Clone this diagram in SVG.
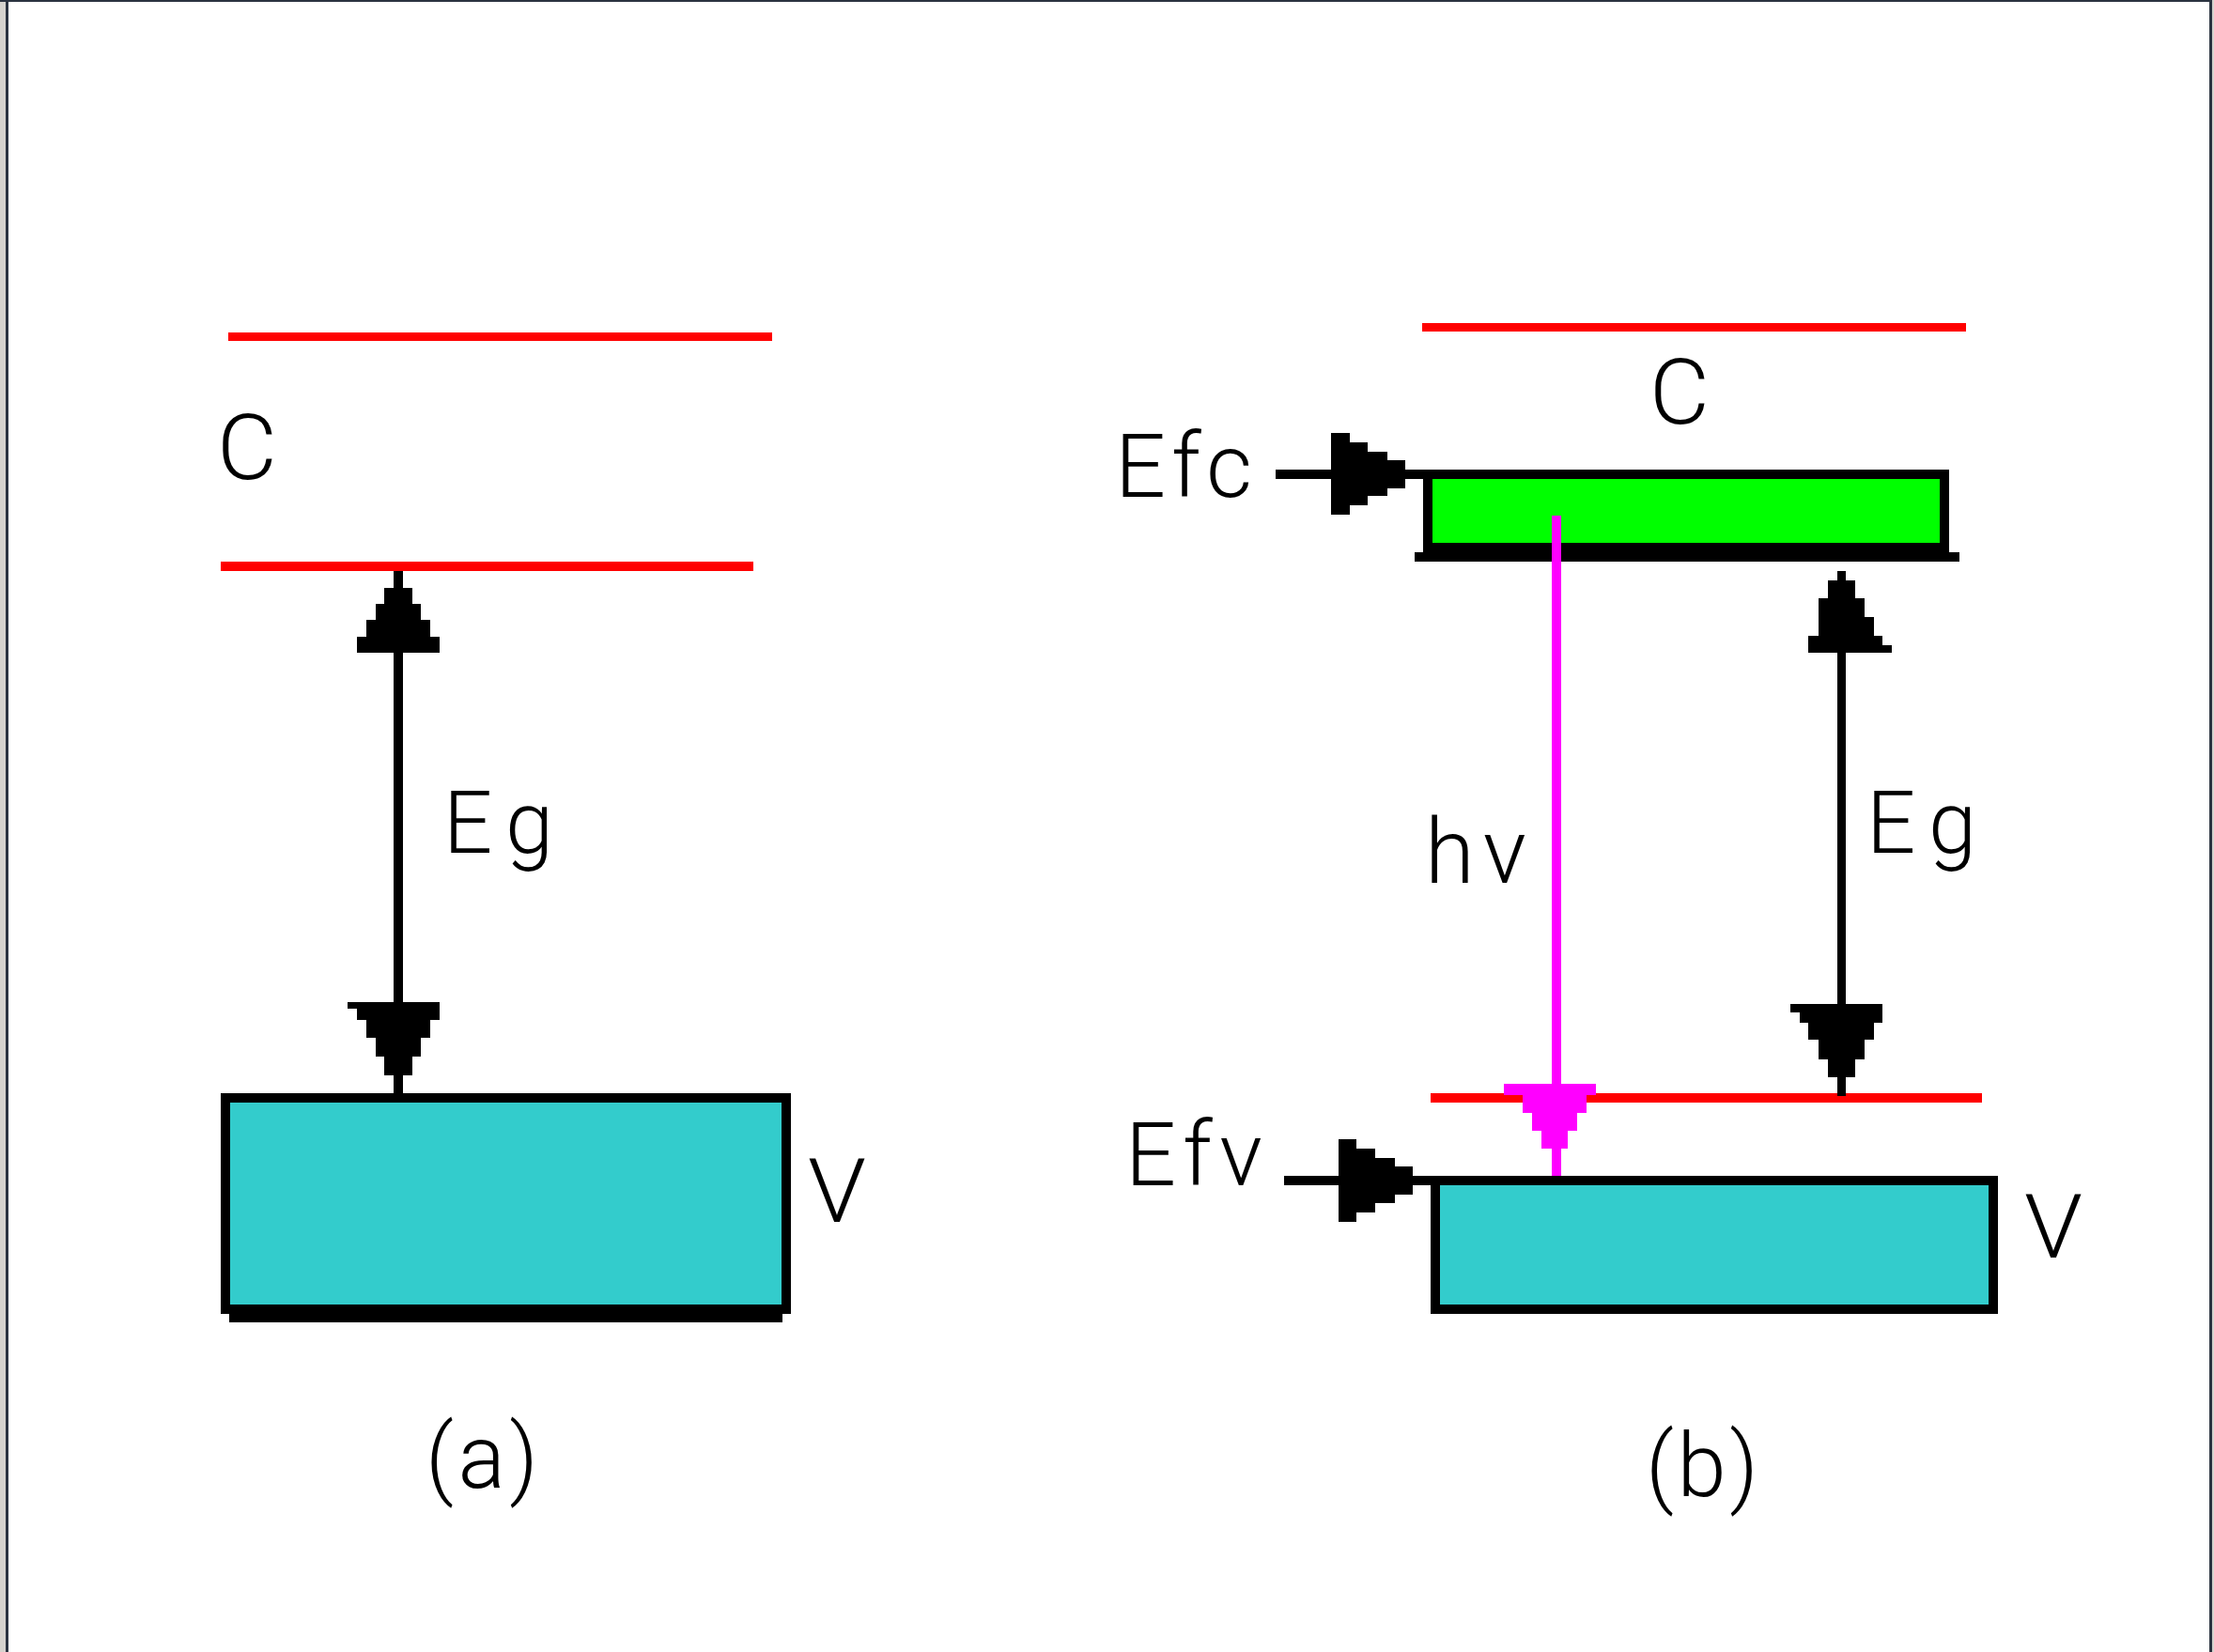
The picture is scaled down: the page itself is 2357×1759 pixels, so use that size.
<svg xmlns="http://www.w3.org/2000/svg" width="2357" height="1759" viewBox="0 0 2357 1759">
<style>
.lbl{font-family:Roboto,"Liberation Sans",Arial,sans-serif;font-weight:300;fill:#000}
.red{fill:#ff0000}
.blk{fill:#000}
.box{stroke:#000;stroke-width:10}
</style>
<rect x="0" y="0" width="2357" height="1759" fill="#ffffff"/>
<g id="frame">
<rect x="0" y="0" width="6" height="1759" fill="#d6d3ce"/>
<rect x="6" y="0" width="3" height="1759" fill="#2b3340"/>
<rect x="0" y="0" width="2357" height="2" fill="#2b3340"/>
<rect x="2352" y="0" width="3" height="1759" fill="#2b3340"/>
<rect x="2355" y="0" width="2" height="1759" fill="#d6d3ce"/>
</g>
<g id="panel-a">
<g id="a-conduction-top"><rect class="red" x="243" y="354" width="579" height="9"/></g>
<g id="a-conduction-edge"><rect class="red" x="235" y="598" width="567" height="10"/></g>
<g id="a-label-C"><text class="lbl" x="231" y="510" font-size="96" textLength="64" lengthAdjust="spacingAndGlyphs">C</text></g>
<g id="a-valence-band">
<rect class="box" x="240" y="1169" width="597" height="225" fill="#33cccc"/>
<rect class="blk" x="244" y="1399" width="589" height="9"/>
</g>
<g id="a-label-V"><text class="lbl" x="860" y="1301" font-size="95" textLength="62" lengthAdjust="spacingAndGlyphs">V</text></g>
<g id="a-label-Eg"><text class="lbl" x="472" y="908" font-size="92" textLength="117" lengthAdjust="spacing">Eg</text></g>
<g id="a-caption"><text class="lbl" x="453" y="1584" font-size="94" textLength="120" lengthAdjust="spacing">(a)</text></g>
</g>
<g id="panel-b">
<g id="b-conduction-top"><rect class="red" x="1514" y="344" width="579" height="9"/></g>
<g id="b-label-C"><text class="lbl" x="1756" y="451" font-size="96" textLength="64" lengthAdjust="spacingAndGlyphs">C</text></g>
<g id="b-conduction-band">
<rect class="box" x="1520" y="505" width="550" height="78" fill="#00ff00"/>
<rect class="blk" x="1506" y="588" width="580" height="10"/>
</g>
<g id="b-valence-edge"><rect class="red" x="1523" y="1164" width="587" height="10"/></g>
<g id="b-valence-band"><rect class="box" x="1528" y="1257" width="594" height="137" fill="#33cccc"/></g>
<g id="b-label-V"><text class="lbl" x="2155" y="1339" font-size="95" textLength="62" lengthAdjust="spacingAndGlyphs">V</text></g>
<g id="b-label-Efc"><text class="lbl" x="1187" y="529" font-size="95" textLength="146" lengthAdjust="spacing">Efc</text></g>
<g id="b-label-Efv"><text class="lbl" x="1198" y="1262" font-size="95" textLength="146" lengthAdjust="spacing">Efv</text></g>
<g id="b-label-hv"><text class="lbl" x="1517" y="940" font-size="96" textLength="108" lengthAdjust="spacing">hv</text></g>
<g id="b-label-Eg"><text class="lbl" x="1987" y="908" font-size="92" textLength="117" lengthAdjust="spacing">Eg</text></g>
<g id="b-caption"><text class="lbl" x="1752" y="1593" font-size="94" textLength="120" lengthAdjust="spacing">(b)</text></g>
</g>
<g id="connectors">
<rect class="blk" x="419" y="695" width="10" height="372"/>
<path class="blk" d="M419,608 H429 V626 H439 V643 H448 V660 H458 V678 H468 V695 H380 V678 H390 V660 H400 V643 H409 V626 H419 Z"/>
<path class="blk" d="M370,1067 H468 V1086 H458 V1105 H448 V1125 H439 V1145 H429 V1164 H419 V1145 H409 V1125 H400 V1105 H390 V1086 H380 V1074 H370 Z"/>
<rect class="blk" x="1956" y="695" width="9" height="374"/>
<path class="blk" d="M1956,608 H1965 V618 H1975 V637 H1985 V657 H1995 V677 H2004 V687 H2014 V695 H1925 V677 H1936 V637 H1946 V618 H1956 Z"/>
<path class="blk" d="M1906,1069 H2004 V1089 H1995 V1107 H1985 V1128 H1975 V1147 H1965 V1167 H1956 V1147 H1946 V1128 H1936 V1107 H1925 V1089 H1916 V1078 H1906 Z"/>
<rect class="blk" x="1358" y="500" width="160" height="10"/>
<path class="blk" d="M1417,461 H1437 V471 H1456 V481 H1477 V490 H1496 V520 H1477 V528 H1456 V538 H1437 V548 H1417 Z"/>
<rect class="blk" x="1367" y="1252" width="160" height="10"/>
<path class="blk" d="M1425,1213 H1444 V1223 H1464 V1233 H1485 V1242 H1504 V1272 H1485 V1281 H1464 V1291 H1444 V1301 H1425 Z"/>
<rect x="1652" y="549" width="10" height="608" fill="#ff00ff"/>
<path fill="#ff00ff" d="M1601,1154 H1699 V1166 H1689 V1185 H1679 V1204 H1669 V1223 H1662 V1252 H1652 V1223 H1641 V1204 H1631 V1185 H1621 V1166 H1601 Z"/>
</g>
</svg>
